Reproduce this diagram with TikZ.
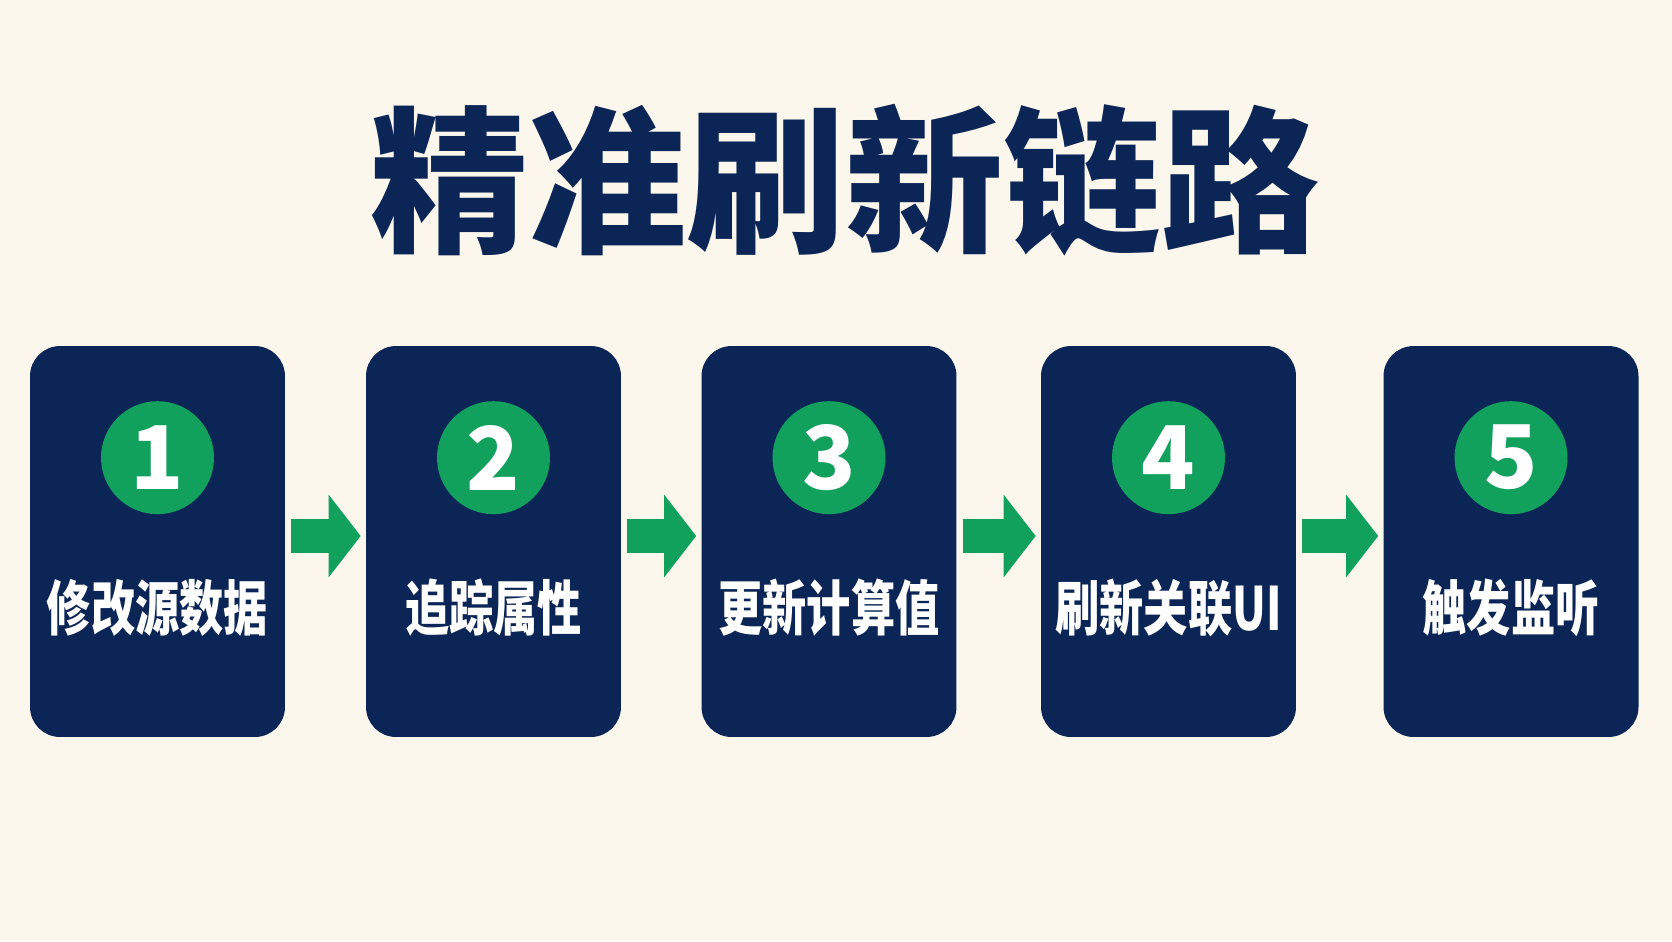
\documentclass[tikz,border=0pt]{standalone}
\usepackage{fontspec}
\usepackage{graphicx}
\usepackage{tikz}
\usetikzlibrary{arrows.meta}
\newfontfamily\cjk{Noto Sans CJK SC}

\definecolor{cream}{HTML}{FBF7EC}
\definecolor{navy}{HTML}{0B2556}
\definecolor{leaf}{HTML}{12A15D}

\tikzset{
  stage/.style={fill=navy, rounded corners=0.6cm, minimum width=5.1cm, minimum height=7.82cm, inner sep=0pt},
  badge/.style={circle, fill=leaf, minimum size=2.26cm, inner sep=0pt, text=white, font=\cjk\bfseries\fontsize{50}{50}\selectfont},
  caption/.style={text=white, inner sep=0pt, font=\cjk\bfseries\fontsize{34}{34}\selectfont},
  flow/.style={leaf, line width=0.68cm, -{Triangle[length=0.64cm,width=1.62cm]}, shorten <=0.12cm, shorten >=0.1cm}
}

\begin{document}
\begin{tikzpicture}[x=0.02cm, y=-0.02cm]
    % Background
    \fill[cream] (0,0) rectangle (1672,941);

    % Title
    \node[text=navy, font=\cjk\bfseries\fontsize{90}{90}\selectfont] (title) at (845,180) {精准刷新链路};

    % The five stages
    \foreach \i/\x/\txt in {1/157.5/修改源数据, 2/493.5/追踪属性, 3/829/更新计算值, 4/1168.5/刷新关联UI, 5/1511/触发监听}{
        \node[stage] (box\i) at (\x,541.5) {};
        \node[badge] (num\i) at ([yshift=-2.24cm]box\i.north) {\i};
        \node[caption] (lab\i) at ([yshift=-5.24cm]box\i.north) {\scalebox{0.74}[1]{\txt}};
    }

    % Arrows between stages
    \foreach \i/\j in {1/2, 2/3, 3/4, 4/5}{
        \draw[flow] ([yshift=0.11cm]box\i.east) -- ([yshift=0.11cm]box\j.west);
    }
\end{tikzpicture}
\end{document}
